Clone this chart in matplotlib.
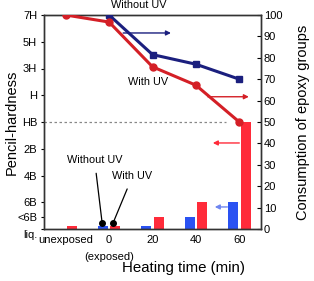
import matplotlib.pyplot as plt
import matplotlib.transforms as mtransforms
import numpy as np

plt.rcParams['font.family'] = ['Liberation Sans', 'DejaVu Sans']

# heating time positions (unexposed drawn at -20)
cat_labels = ['unexposed', '0', '20', '40', '60']
cat_pos = np.array([-20, 0, 20, 40, 60])

# consumption of epoxy groups (%), right axis
t_without = np.array([0, 20, 40, 60])
cons_without = np.array([100, 81.5, 77, 70])
t_with = np.array([-20, 0, 20, 40, 60])
cons_with = np.array([100, 96.7, 75.8, 67.2, 50])

# pencil hardness bars, left axis (liq.=0, <6B=0.45, 6B=1 ... 7H=8)
bar_t_without = np.array([0, 20, 40, 60])
hard_without = np.array([0.12, 0.12, 0.45, 1.0])
bar_t_with = np.array([-20, 0, 20, 40, 60])
hard_with = np.array([0.12, 0.12, 0.45, 1.0, 4.0])

hard_ticks = [0, 0.45, 1, 2, 3, 4, 5, 6, 7, 8]
hard_labels = ['', '<6B', '6B', '4B', '2B', 'HB', 'H', '3H', '5H', '7H']

navy = '#1b1f7e'
red_line = '#d41f26'
blue_bar = '#2a52f2'
red_bar = '#ff2b3a'

W, H = 314, 281
fig = plt.figure(figsize=(3.14, 2.81), dpi=100)
ax = fig.add_axes([44 / W, 1 - 229 / H, 217 / W, 214 / H])
ax2 = ax.twinx()

bw = 4.6
off = 2.9
ax.bar(bar_t_without - off, hard_without, width=bw, color=blue_bar, zorder=2)
ax.bar(bar_t_with + off, hard_with, width=bw, color=red_bar, zorder=2)
ax.plot([-30, 54], [4, 4], ls=(0, (2, 2)), color='#888888', lw=0.9, zorder=1)

ax.set_xlim(-30, 70)
ax.set_ylim(0, 8)
ax.set_yticks(hard_ticks)
ax.set_yticklabels(hard_labels, fontsize=8)
ax.set_xticks(cat_pos)
ax.set_xticklabels(cat_labels, fontsize=8)
ax.tick_params(axis='x', length=0, pad=4)
ax.tick_params(axis='y', direction='out', length=2.5, pad=2.5)

# "liq." sits a little below the bottom spine
liq_tr = ax.transAxes + mtransforms.ScaledTranslation(-5 / 72, -4 / 72, fig.dpi_scale_trans)
ax.text(0, 0, 'liq.', fontsize=8, ha='right', va='center', transform=liq_tr)

ax2.set_zorder(ax.get_zorder() + 1)
ax2.patch.set_visible(False)
ax2.plot(t_without, cons_without, color=navy, lw=2.2, marker='s', ms=5, zorder=3)
ax2.plot(t_with, cons_with, color=red_line, lw=2.2, marker='o', ms=5, zorder=3)
ax2.set_ylim(0, 100)
ax2.set_yticks(np.arange(0, 101, 10))
ax2.tick_params(axis='y', direction='in', length=3, labelsize=8, pad=2)

for sp in list(ax.spines.values()) + list(ax2.spines.values()):
    sp.set_linewidth(1.0)
    sp.set_color('#333333')

# arrows pointing to the axes
arr = dict(arrowstyle='-|>', lw=1.0, mutation_scale=7, shrinkA=0, shrinkB=0)
ax2.annotate('', xy=(28.5, 91.6), xytext=(6.5, 91.6), arrowprops=dict(arr, color=navy))
ax2.annotate('', xy=(64.4, 61.8), xytext=(45.5, 61.8), arrowprops=dict(arr, color=red_line))
ax2.annotate('', xy=(47.8, 40.2), xytext=(60, 40.2), arrowprops=dict(arr, color=red_bar))
ax2.annotate('', xy=(48.7, 10.3), xytext=(54.5, 10.3), arrowprops=dict(arr, color='#6f86f0'))

ax.text(13.8, 8.37, 'Without UV', fontsize=7.8, ha='center', va='center', clip_on=False)
ax.text(17.9, 5.5, 'With UV', fontsize=7.8, ha='center', va='center')

# callouts at the 0 min bars
ax.plot([-3.2, 1.8], [0.22, 0.22], 'o', color='black', ms=4, zorder=4)
ax.annotate('Without UV', xy=(-3.2, 0.22), xytext=(-6.7, 2.58), fontsize=7.8,
            ha='center', va='center',
            arrowprops=dict(arrowstyle='-', color='black', lw=0.9, shrinkA=4, shrinkB=0))
ax.annotate('With UV', xy=(1.8, 0.22), xytext=(10.8, 1.98), fontsize=7.8,
            ha='center', va='center',
            arrowprops=dict(arrowstyle='-', color='black', lw=0.9, shrinkA=4, shrinkB=0))

trans = mtransforms.blended_transform_factory(ax.transData, fig.transFigure)
ax.text(0, 1 - 257 / H, '(exposed)', fontsize=8, ha='center', va='center', transform=trans)

fig.text(183 / W, 1 - 268 / H, 'Heating time (min)', fontsize=10.8, ha='center', va='center')
fig.text(12 / W, 1 - 122 / H, 'Pencil-hardness', fontsize=10.5, rotation=90,
         ha='center', va='center')
fig.text(303 / W, 1 - 122 / H, 'Consumption of epoxy groups', fontsize=10.5, rotation=90,
         ha='center', va='center')

fig.savefig('out.png', dpi=100)
